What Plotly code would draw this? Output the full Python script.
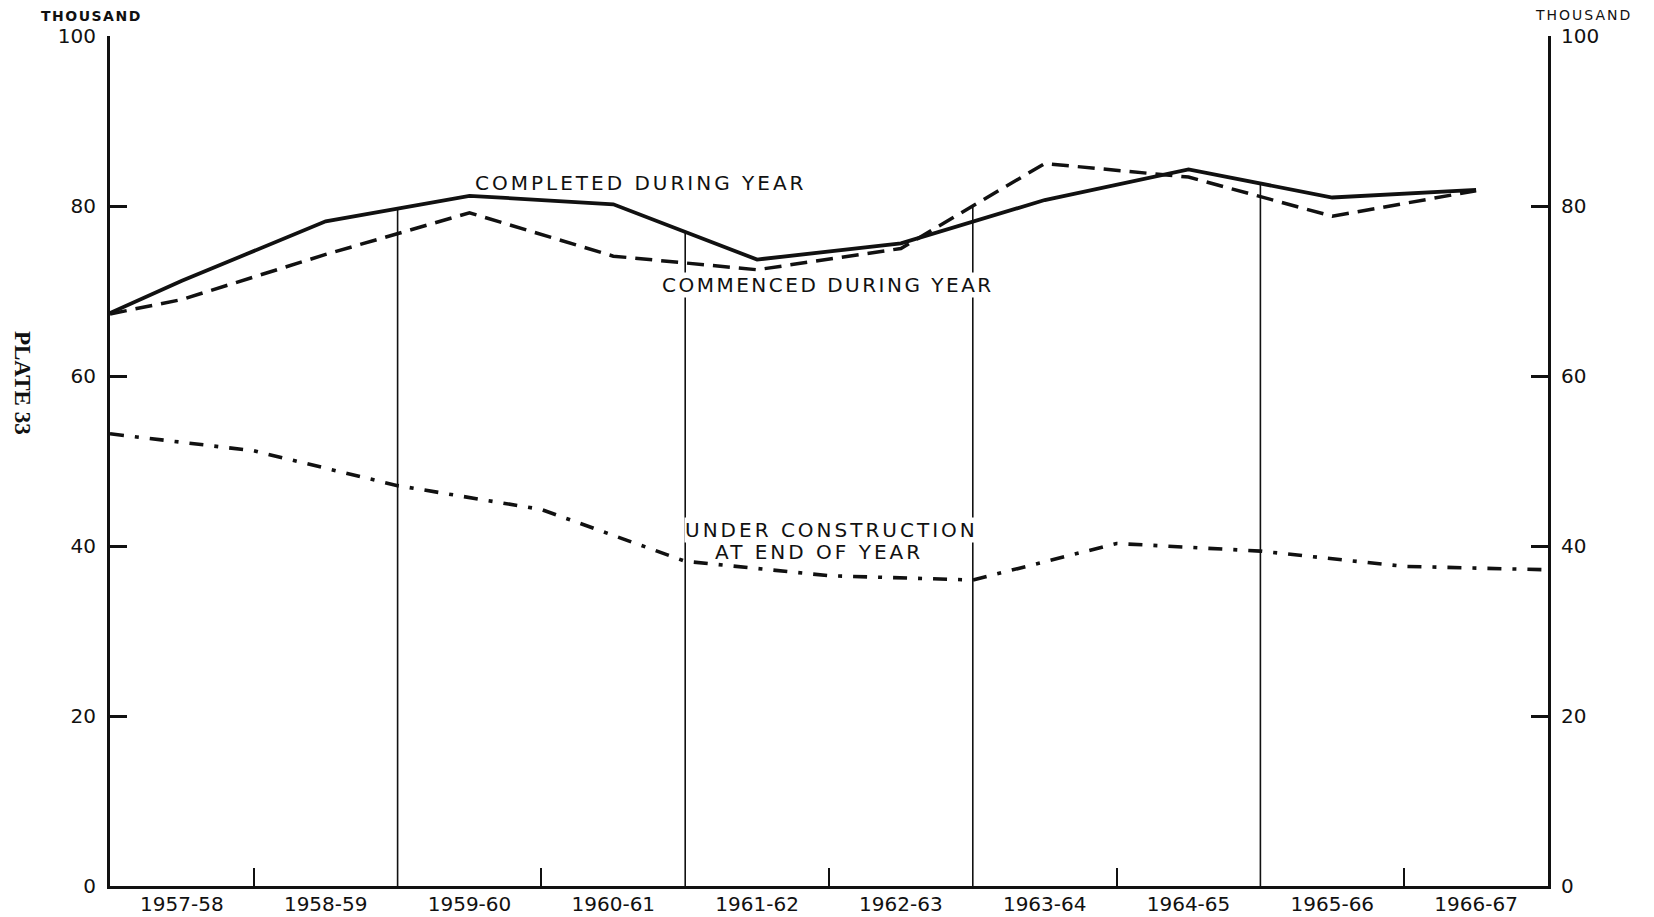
import numpy as np
import plotly.graph_objects as go

# ---------------- data (thousand) ----------------
years = ["1957-58", "1958-59", "1959-60", "1960-61", "1961-62",
         "1962-63", "1963-64", "1964-65", "1965-66", "1966-67"]

# values for each year (plotted at the middle of the year)
completed = [71.2, 78.2, 81.2, 80.2, 73.7, 75.6, 80.7, 84.3, 81.0, 81.9]
commenced = [69.0, 74.3, 79.2, 74.1, 72.5, 75.0, 85.0, 83.4, 78.8, 81.8]
# level where the curves enter the chart at the start of 1957-58
completed_at_start = 67.4
commenced_at_start = 67.3

# under construction at end of each year (plotted at year end)
under_construction = [51.2, 47.1, 44.3, 38.2, 36.5, 36.0, 40.3, 39.4, 37.6, 37.2]
under_construction_at_start = 53.2  # end of 1956-57

y_ticks = [0, 20, 40, 60, 80, 100]

# ---------------- positions ----------------
n = len(years)
centers = np.arange(n, dtype=float)
x_mid = np.concatenate([[-0.5], centers])
x_end = np.concatenate([[-0.5], centers + 0.5])
comp_full = np.concatenate([[completed_at_start], completed])
comm_full = np.concatenate([[commenced_at_start], commenced])
uc_full = np.concatenate([[under_construction_at_start], under_construction])

boundaries = centers[:-1] + 0.5
tall_lines = boundaries[1::2]      # full-height dividers
small_ticks = boundaries[0::2]     # short tick marks

FONT = "DejaVu Sans"
BLACK = "#111111"

fig = go.Figure()

fig.add_trace(go.Scatter(x=x_mid, y=comp_full, mode="lines",
                         line=dict(color=BLACK, width=3.8), hoverinfo="skip"))
fig.add_trace(go.Scatter(x=x_mid, y=comm_full, mode="lines", xaxis="x2", yaxis="y",
                         line=dict(color=BLACK, width=3.5, dash="17px,9px"),
                         hoverinfo="skip"))
fig.add_trace(go.Scatter(x=x_end, y=uc_full, mode="lines", xaxis="x", yaxis="y2",
                         line=dict(color=BLACK, width=3.6,
                                   dash="14px,11px,4px,11px"),
                         hoverinfo="skip"))

# dividers from the base up to the higher of the two upper curves
for b in tall_lines:
    top = max(np.interp(b, x_mid, comp_full), np.interp(b, x_mid, comm_full))
    fig.add_shape(type="line", xref="x", yref="y", x0=b, x1=b, y0=0, y1=top,
                  line=dict(color=BLACK, width=1.6), layer="below")

def spaced(t, sp=3):
    return f'<span style="letter-spacing:{sp}px">{t}</span>'

lab_font = dict(family=FONT, size=20, color=BLACK)
fig.add_annotation(x=3.19, y=82.7, xref="x", yref="y", text=spaced("COMPLETED DURING YEAR"),
                   showarrow=False, font=lab_font, xanchor="center", yanchor="middle")
fig.add_annotation(x=4.49, y=70.7, xref="x", yref="y",
                   text=spaced("COMMENCED DURING YEAR", 2.5),
                   showarrow=False, font=lab_font, bgcolor="white", borderpad=0,
                   xanchor="center", yanchor="middle")
fig.add_annotation(x=4.52, y=41.9, xref="x", yref="y", text=spaced("UNDER CONSTRUCTION"),
                   showarrow=False, font=lab_font, bgcolor="white", borderpad=0,
                   xanchor="center", yanchor="middle")
fig.add_annotation(x=4.43, y=39.3, xref="x", yref="y", text=spaced("AT END OF YEAR"),
                   showarrow=False, font=lab_font, xanchor="center", yanchor="middle")

fig.add_annotation(x=-0.0132, y=1.0235, xref="paper", yref="paper",
                   text=spaced("<b>THOUSAND</b>", 1.5), showarrow=False,
                   xanchor="center", yanchor="middle",
                   font=dict(family=FONT, size=14, color=BLACK))
fig.add_annotation(x=1.025, y=1.0245, xref="paper", yref="paper",
                   text=spaced("THOUSAND", 2), showarrow=False,
                   xanchor="center", yanchor="middle",
                   font=dict(family=FONT, size=14, color=BLACK))
fig.add_annotation(x=-0.0612, y=0.5918, xref="paper", yref="paper",
                   text="<b>PLATE 33</b>", textangle=90, showarrow=False,
                   xanchor="center", yanchor="middle",
                   font=dict(family="Liberation Serif", size=23, color=BLACK))

tick_font = dict(family=FONT, size=20, color=BLACK)

# the page body adds an 8px offset, margins compensate for it
fig.update_layout(
    width=1654, height=917,
    margin=dict(l=102, r=114, t=28, b=39),
    paper_bgcolor="white", plot_bgcolor="white",
    showlegend=False,
    xaxis=dict(range=[-0.5, n - 0.5], tickvals=centers, ticktext=years,
               ticks="", showgrid=False, zeroline=False, automargin=False,
               showline=True, linewidth=3, linecolor=BLACK,
               tickfont=tick_font, ticklabelstandoff=-2),
    xaxis2=dict(range=[-0.5, n - 0.5], overlaying="x", anchor="y", side="bottom",
                tickvals=small_ticks, ticks="inside", ticklen=18, tickwidth=1.7,
                tickcolor=BLACK, showticklabels=False, showgrid=False,
                zeroline=False, showline=False, automargin=False),
    yaxis=dict(range=[0, 100], tickvals=y_ticks, ticks="inside", ticklen=17,
               tickwidth=2.5, tickcolor=BLACK, showgrid=False, zeroline=False,
               showline=True, linewidth=3, linecolor=BLACK, automargin=False,
               tickfont=tick_font, ticklabelstandoff=7),
    yaxis2=dict(range=[0, 100], overlaying="y", side="right", anchor="x",
                tickvals=y_ticks, ticks="inside", ticklen=17, tickwidth=2.5,
                tickcolor=BLACK, showgrid=False, zeroline=False, automargin=False,
                showline=True, linewidth=3, linecolor=BLACK,
                tickfont=tick_font, ticklabelstandoff=6),
)

fig.write_html("out.html")
